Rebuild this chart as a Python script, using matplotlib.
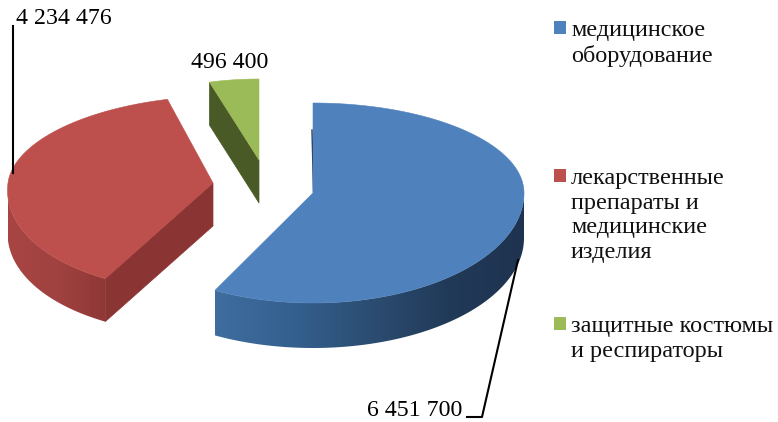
import numpy as np
import matplotlib
matplotlib.use("Agg")
import matplotlib.pyplot as plt
from matplotlib.colors import to_rgb
from matplotlib.patches import Polygon, Rectangle

plt.rcParams['font.family'] = ['Liberation Serif', 'DejaVu Serif']

# --- data ---
categories = ["медицинское\nоборудование",
              "лекарственные\nпрепараты и\nмедицинские\nизделия",
              "защитные костюмы\nи респираторы"]
values = [6451700, 4234476, 496400]
top_colors = ['#4f81bd', '#bd4f4c', '#9bbb59']

# exploded slice geometry in pixels: cx, cy, rx, ry back, ry front, shear, depth
geom = [(313, 193, 211, 90, 110, 0.0, 45),
        (213, 183, 205, 87, 108, -0.13, 43),
        (259, 160, 180, 81, 100, 0.0, 43)]
legend_y = [27, 175, 323]


def point(g, t):
    cx, cy, rx, ry_b, ry_f, shear, _ = g
    t = np.radians(t)
    dy = -np.sin(t) * np.where(np.sin(t) > 0, ry_b, ry_f)
    return cx + rx * np.cos(t) + shear * dy, cy + dy


def rim(ax, g, t1, t2, stops):
    # outer wall: a horizontal gradient clipped to the wall outline
    ts = np.linspace(t1, t2, 120)
    x, y = point(g, ts)
    outline = np.r_[np.c_[x, y], np.c_[x, y + g[6]][::-1]]
    rgb = np.array([to_rgb(c) for c in stops])
    pos = np.linspace(0, 1, len(stops))
    u = np.linspace(0, 1, 256)
    img = np.stack([np.interp(u, pos, rgb[:, k]) for k in range(3)], axis=-1)[None, :, :]
    im = ax.imshow(img, extent=[x.min(), x.max(), outline[:, 1].max(), outline[:, 1].min()],
                   aspect='auto', zorder=2, interpolation='bilinear')
    poly = Polygon(outline, fc='none', ec='none', transform=ax.transData)
    ax.add_patch(poly)
    im.set_clip_path(poly)


def cut_face(ax, g, t, color):
    x, y = point(g, t)
    ax.add_patch(Polygon([(g[0], g[1]), (x, y), (x, y + g[6]), (g[0], g[1] + g[6])],
                         fc=color, ec=color, lw=0.5, zorder=2))


fig = plt.figure(figsize=(7.78, 4.22), dpi=100)
ax = fig.add_axes([0, 0, 1, 1])

shares = np.array(values) / sum(values) * 360
ends = 90 - np.cumsum(shares)
starts = np.r_[90, ends[:-1]]

# walls that can be seen
rim(ax, geom[0], starts[1], 0, ['#3f6d9f', '#34608f', '#2c4d72', '#213a58', '#1e3350'])
rim(ax, geom[1], starts[1], -180, ['#a84543', '#a04240', '#8f3836'])
cut_face(ax, geom[1], starts[1], '#8a3533')
cut_face(ax, geom[2], starts[2], '#4a5a26')

# top faces
for g, s, e, col in zip(geom, starts, ends, top_colors):
    ts = np.linspace(s, e, 200)
    x, y = point(g, ts)
    ax.add_patch(Polygon(np.r_[[(g[0], g[1])], np.c_[x, y]], fc=col, ec=col, lw=0.4, zorder=3))

# thin dark sliver on the blue cut edge
ax.plot([312, 313.5], [130, 192], color='#1f3450', lw=1.0, zorder=2.5)

# data labels and leader lines
lab = [f"{v:,}".replace(",", " ") for v in values]
ax.text(462, 410, lab[0], ha='right', va='center', fontsize=17.2, color='black', zorder=5)
ax.text(16, 18, lab[1], ha='left', va='center', fontsize=17.2, color='black', zorder=5)
ax.text(191, 62, lab[2], ha='left', va='center', fontsize=17.2, color='black', zorder=5)
ax.plot([13.5, 13.5], [26, 173], color='black', lw=1.5, zorder=4)
ax.plot([518, 482, 467], [260, 417, 417], color='black', lw=1.5, zorder=4)

# legend
for cat, y0, col in zip(categories, legend_y, top_colors):
    ax.add_patch(Rectangle((554, y0 - 6), 12, 13, fc=col, ec='none'))
    ax.text(571, y0 - 7, cat, ha='left', va='top', fontsize=17.5, linespacing=1.23, color='#111111')

ax.set_xlim(0, 778)
ax.set_ylim(422, 0)
ax.axis('off')

fig.savefig('out.png', dpi=100)
